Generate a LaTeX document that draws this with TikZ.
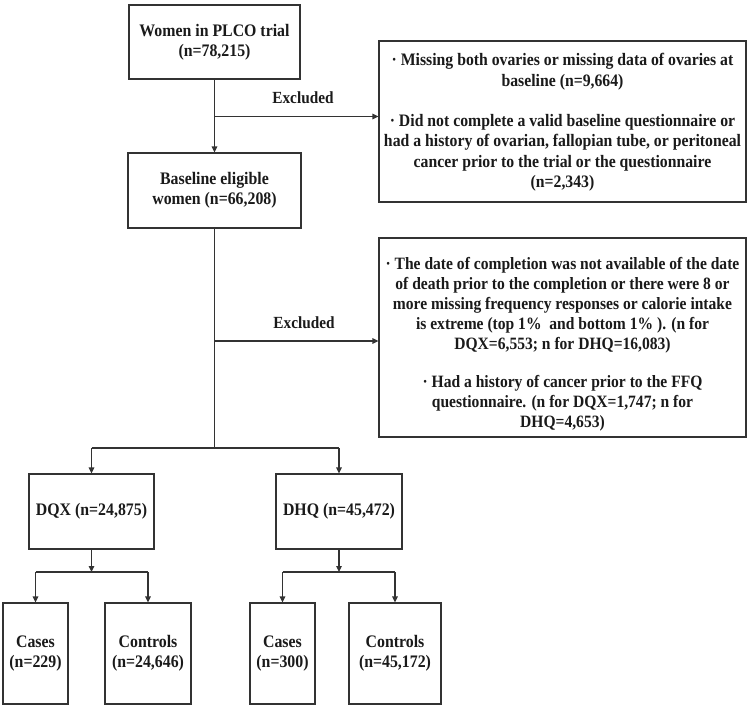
\documentclass[tikz,border=0pt]{standalone}
\usepackage{fontspec}
\setmainfont{Liberation Serif}[FakeStretch=0.9]
\usetikzlibrary{arrows.meta}
\definecolor{linegray}{HTML}{333333}
\definecolor{txt}{HTML}{1A1A1A}
\begin{document}
\begin{tikzpicture}[x=1pt,y=-1pt,
  box/.style={draw=linegray,line width=1.15pt,fill=white,inner sep=0pt,align=center,
    text=txt,font=\fontsize{17.6}{20}\selectfont\bfseries},
  exbox/.style={draw=linegray,line width=1.15pt,fill=white,inner sep=0pt},
  extext/.style={align=center,inner sep=0pt,text=txt,font=\fontsize{17.5}{20.3}\selectfont\bfseries},
  extextb/.style={extext,font=\fontsize{17.3}{20}\selectfont\bfseries},
  conn/.style={draw=linegray,line width=1.15pt},
  arr/.style={conn,-{Triangle[length=6pt,width=5.5pt]}},
  lbl/.style={text=txt,font=\fontsize{17}{20}\selectfont\bfseries,inner sep=0pt}]
\useasboundingbox (0,0) rectangle (750,710);
\fill[white] (0,0) rectangle (750,710);

\node[box,minimum width=171pt,minimum height=74pt] (top) at (214.5,42) {Women in PLCO trial\\(n=78,215)};
\node[box,minimum width=173pt,minimum height=75pt] (base) at (214.5,190.5) {Baseline eligible\\women (n=66,208)};
\node[exbox,minimum width=367pt,minimum height=161pt] (ex1) at (562.5,121.5) {};
\node[extext] (ex1t) at (562.5,122) 
  {· Missing both ovaries or missing data of ovaries at\\[1.5pt]baseline (n=9,664)\\[19.5pt]
   · Did not complete a valid baseline questionnaire or\\had a history of ovarian, fallopian tube, or peritoneal\\cancer prior to the trial or the questionnaire\\(n=2,343)};
\node[exbox,minimum width=367pt,minimum height=199pt] (ex2) at (562.5,337.5) {};
\node[extextb] (ex2t) at (562.5,344.5)
  {· The date of completion was not available of the date\\of death prior to the completion or there were 8 or\\more missing frequency responses or calorie intake\\is extreme (top 1\%\ \ and bottom 1\%\ ). (n for\\DQX=6,553; n for DHQ=16,083)\\[18pt]
   · Had a history of cancer prior to the FFQ\\questionnaire. (n for DQX=1,747; n for\\DHQ=4,653)};
\node[box,minimum width=125pt,minimum height=75pt] (dqx) at (91.5,511.5) {DQX (n=24,875)};
\node[box,minimum width=126pt,minimum height=75pt] (dhq) at (339,511.5) {DHQ (n=45,472)};
\node[box,minimum width=65pt,minimum height=101pt] (ca1) at (35.5,653.5) {Cases\\(n=229)};
\node[box,minimum width=86pt,minimum height=101pt] (co1) at (148,653.5) {Controls\\(n=24,646)};
\node[box,minimum width=65pt,minimum height=101pt] (ca2) at (282.5,653.5) {Cases\\(n=300)};
\node[box,minimum width=92pt,minimum height=101pt] (co2) at (395,653.5) {Controls\\(n=45,172)};

\node[lbl] (exl1) at (303,98) {Excluded};
\node[lbl] (exl2) at (304,323) {Excluded};

\coordinate (j1) at (214.5,116.5);
\coordinate (j2) at (214.5,341);
\coordinate (j3) at (214.5,448);
\coordinate (k1) at (91.5,572);
\coordinate (k2) at (339,572);

\draw[arr] (top.south) -- (base.north);
\draw[arr] (j1) -- (ex1.west |- j1);
\draw[conn] (base.south) -- (j3);
\draw[arr] (j2) -- (ex2.west |- j2);
\draw[conn] (dqx.north |- j3) -- (dhq.north |- j3);
\draw[arr] (dqx.north |- j3) -- (dqx.north);
\draw[arr] (dhq.north |- j3) -- (dhq.north);
\draw[arr] (dqx.south) -- (k1);
\draw[conn] (ca1.north |- k1) -- (co1.north |- k1);
\draw[arr] (ca1.north |- k1) -- (ca1.north);
\draw[arr] (co1.north |- k1) -- (co1.north);
\draw[arr] (dhq.south) -- (k2);
\draw[conn] (ca2.north |- k2) -- (co2.north |- k2);
\draw[arr] (ca2.north |- k2) -- (ca2.north);
\draw[arr] (co2.north |- k2) -- (co2.north);
\end{tikzpicture}
\end{document}
